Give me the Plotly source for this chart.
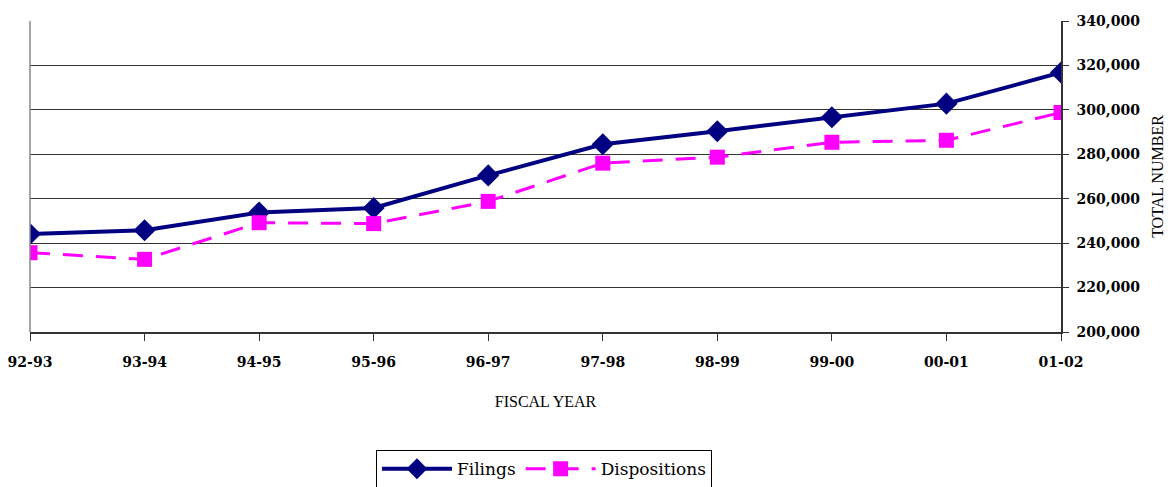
import plotly.graph_objects as go

years = ["92-93", "93-94", "94-95", "95-96", "96-97", "97-98", "98-99", "99-00", "00-01", "01-02"]
filings = [244100, 245800, 253800, 255800, 270500, 284500, 290400, 296700, 302800, 316800]
dispositions = [235700, 232700, 249200, 248800, 258800, 276000, 278700, 285400, 286300, 298800]
y_ticks = [200000, 220000, 240000, 260000, 280000, 300000, 320000, 340000]

SERIF = "DejaVu Serif"
SERIF2 = "Liberation Serif"

fig = go.Figure()
fig.add_trace(go.Scatter(
    x=years, y=filings, name="Filings", mode="lines+markers",
    line=dict(color="#000080", width=4),
    marker=dict(symbol="diamond", size=17, color="#000080"),
))
fig.add_trace(go.Scatter(
    x=years, y=dispositions, name="Dispositions", mode="lines+markers",
    line=dict(color="#FF00FF", width=3, dash="20px,13px"),
    marker=dict(symbol="square", size=15, color="#FF00FF"),
))

fig.update_layout(
    width=1167, height=479,
    margin=dict(l=22, r=114, t=13, b=155, autoexpand=False),
    paper_bgcolor="white", plot_bgcolor="white",
    font=dict(family=SERIF2, color="black"),
    showlegend=True,
    legend=dict(
        orientation="h", x=0.4985, xanchor="center", y=-0.38, yanchor="top",
        bordercolor="black", borderwidth=1,
        font=dict(family=SERIF, size=17, color="black"),
        itemwidth=70,
    ),
    xaxis=dict(
        type="category", range=[0, len(years) - 1], automargin=False,
        tickvals=years, ticktext=[f"<b>{y}</b>" for y in years],
        showgrid=False, showline=True, linecolor="#333", linewidth=2,
        ticks="outside", ticklen=7, tickcolor="#333", ticklabelstandoff=9,
        tickfont=dict(family=SERIF, size=14, color="black"),
        title=dict(text="FISCAL YEAR", font=dict(family=SERIF2, size=16, color="black"), standoff=27),
        zeroline=False,
    ),
    yaxis=dict(
        side="right", range=[200000, 340000], automargin=False,
        tickvals=y_ticks, ticktext=[f"<b>{v:,}</b>" for v in y_ticks],
        showgrid=True, gridcolor="#333", gridwidth=1,
        showline=True, linecolor="#333", linewidth=1.5,
        ticks="outside", ticklen=6, tickcolor="#333", ticklabelstandoff=5,
        tickfont=dict(family=SERIF, size=14, color="black"),
        title=dict(text="TOTAL NUMBER", font=dict(family=SERIF2, size=16, color="black"), standoff=13),
        zeroline=False,
    ),
    shapes=[
        dict(type="line", xref="paper", yref="paper", x0=0, x1=0, y0=0, y1=1,
             line=dict(color="#888", width=1.5)),
    ],
)

fig.write_html("out.html")
